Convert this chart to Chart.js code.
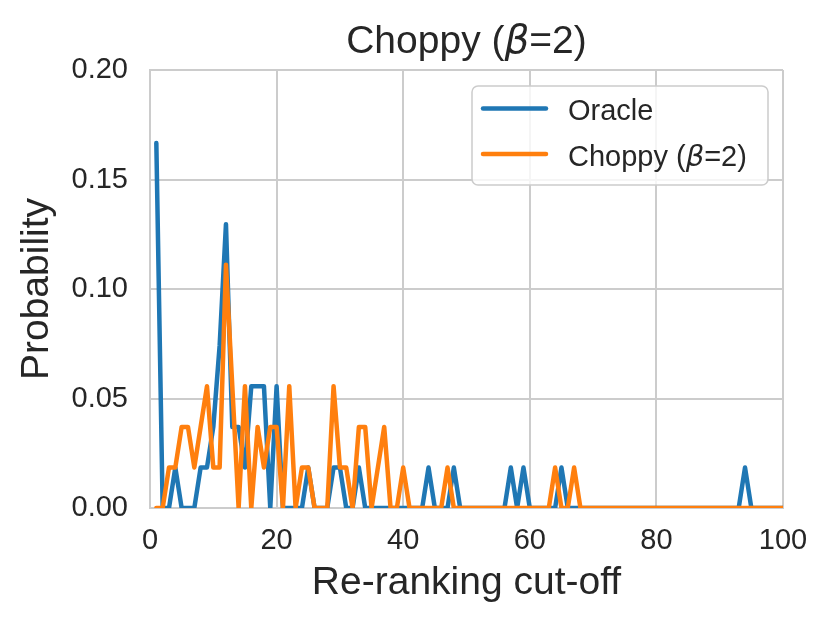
<!DOCTYPE html>
<html>
<head>
<meta charset="utf-8">
<script src="https://cdn.jsdelivr.net/npm/chart.js@4.4.1/dist/chart.umd.min.js"></script>
<style>
  html, body { margin: 0; padding: 0; background: #fff; }
  #wrap { width: 831px; height: 628px; }
</style>
</head>
<body>
<div id="wrap"><canvas id="cutoffChart" width="831" height="628"></canvas></div>
<script>
// re-ranking cut-off positions 1..100
const cutoffs = Array.from({ length: 100 }, (_, i) => i + 1);

// probability of each cut-off (54 queries, so steps of ~0.0185)
const oracleProb = [
  0.1667, 0, 0, 0.0185, 0, 0, 0, 0.0185, 0.0185, 0.037,
  0.0741, 0.1296, 0.037, 0.037, 0.0185, 0.0556, 0.0556, 0.0556, 0, 0.0556,
  0, 0, 0, 0, 0.0185, 0, 0, 0, 0.0185, 0.0185,
  0, 0, 0.0185, 0, 0, 0, 0, 0, 0, 0,
  0, 0, 0, 0.0185, 0, 0, 0, 0.0185, 0, 0,
  0, 0, 0, 0, 0, 0, 0.0185, 0, 0.0185, 0,
  0, 0, 0, 0, 0.0185, 0, 0, 0, 0, 0,
  0, 0, 0, 0, 0, 0, 0, 0, 0, 0,
  0, 0, 0, 0, 0, 0, 0, 0, 0, 0,
  0, 0, 0, 0.0185, 0, 0, 0, 0, 0, 0
];
const choppyProb = [
  0, 0, 0.0185, 0.0185, 0.037, 0.037, 0.0185, 0.037, 0.0556, 0.0185,
  0.0185, 0.1111, 0.0556, 0, 0.0556, 0, 0.037, 0.0185, 0.037, 0.037,
  0, 0.0556, 0, 0.0185, 0.0185, 0, 0, 0, 0.0556, 0.0185,
  0.0185, 0, 0.037, 0.037, 0, 0.0185, 0.037, 0, 0, 0.0185,
  0, 0, 0, 0, 0, 0, 0.0185, 0, 0, 0,
  0, 0, 0, 0, 0, 0, 0, 0, 0, 0,
  0, 0, 0, 0.0185, 0, 0, 0.0185, 0, 0, 0,
  0, 0, 0, 0, 0, 0, 0, 0, 0, 0,
  0, 0, 0, 0, 0, 0, 0, 0, 0, 0,
  0, 0, 0, 0, 0, 0, 0, 0, 0, 0
];

const xTicks = [0, 20, 40, 60, 80, 100];
const yTicks = [0, 0.05, 0.10, 0.15, 0.20];

const seriesNames = ['Oracle', 'Choppy (β=2)'];
const seriesColors = ['#1f77b4', '#ff7f0e'];

const SANS = '"Liberation Sans", Arial, sans-serif';
const MATH = '"DejaVu Sans", sans-serif';
const textColor = '#262626';
const gridColor = '#cccccc';
const LINE_W = 4.5;

// split "β" out so it can be drawn in italic like matplotlib mathtext
const splitBeta = (str) => str.split(/(β)/).filter(s => s.length);

const drawMixed = (ctx, str, x, y, size, align) => {
  const parts = splitBeta(str).map(t => ({
    t, font: t === 'β' ? `italic ${size}px ${MATH}` : `${size}px ${SANS}`
  }));
  let total = 0;
  parts.forEach(p => { ctx.font = p.font; p.w = ctx.measureText(p.t).width; total += p.w; });
  let cx = align === 'center' ? x - total / 2 : x;
  ctx.textBaseline = 'alphabetic';
  ctx.textAlign = 'left';
  parts.forEach(p => { ctx.font = p.font; ctx.fillText(p.t, cx, y); cx += p.w; });
};

const decorations = {
  id: 'decorations',
  beforeDraw(chart) {
    const { ctx } = chart;
    ctx.save();
    ctx.fillStyle = '#ffffff';
    ctx.fillRect(0, 0, chart.width, chart.height);
    ctx.restore();
  },
  afterDraw(chart) {
    const { ctx, chartArea } = chart;
    ctx.save();
    ctx.fillStyle = textColor;
    // title
    drawMixed(ctx, 'Choppy (β=2)', (chartArea.left + chartArea.right) / 2, 52.5, 39, 'center');

    // legend frame
    const bx = 472, by = 86, bw = 296, bh = 99, r = 6;
    ctx.beginPath();
    ctx.moveTo(bx + r, by);
    ctx.arcTo(bx + bw, by, bx + bw, by + bh, r);
    ctx.arcTo(bx + bw, by + bh, bx, by + bh, r);
    ctx.arcTo(bx, by + bh, bx, by, r);
    ctx.arcTo(bx, by, bx + bw, by, r);
    ctx.closePath();
    ctx.fillStyle = 'rgba(255,255,255,0.8)';
    ctx.fill();
    ctx.lineWidth = 1.5;
    ctx.strokeStyle = gridColor;
    ctx.stroke();

    // legend entries
    const rows = [108.5, 154];
    seriesNames.forEach((name, i) => {
      ctx.beginPath();
      ctx.moveTo(483, rows[i]);
      ctx.lineTo(546, rows[i]);
      ctx.lineWidth = LINE_W;
      ctx.lineCap = 'round';
      ctx.strokeStyle = seriesColors[i];
      ctx.stroke();
      ctx.fillStyle = textColor;
      drawMixed(ctx, name, 568, rows[i] + 11.5, 29, 'left');
    });
    ctx.restore();
  }
};

const toPoints = (values) => cutoffs.map((c, i) => ({ x: c, y: values[i] }));

new Chart(document.getElementById('cutoffChart'), {
  type: 'line',
  data: {
    datasets: [
      {
        label: seriesNames[0],
        data: toPoints(oracleProb),
        borderColor: seriesColors[0],
        order: 2
      },
      {
        label: seriesNames[1],
        data: toPoints(choppyProb),
        borderColor: seriesColors[1],
        order: 1
      }
    ]
  },
  options: {
    responsive: false,
    animation: false,
    devicePixelRatio: 1,
    layout: { padding: { top: 70, right: 48, bottom: 0, left: 0 } },
    elements: {
      line: { borderWidth: LINE_W, tension: 0, borderCapStyle: 'round', borderJoinStyle: 'round', fill: false },
      point: { radius: 0, hoverRadius: 0 }
    },
    datasets: { line: { clip: 0 } },
    scales: {
      x: {
        type: 'linear',
        min: 0,
        max: 100,
        afterFit: (scale) => { scale.height = 120; },
        afterBuildTicks: (axis) => { axis.ticks = xTicks.map(v => ({ value: v })); },
        grid: { color: gridColor, lineWidth: 2, drawTicks: false },
        border: { color: gridColor, width: 2 },
        ticks: {
          color: textColor,
          padding: 16,
          font: { family: SANS, size: 29 },
          callback: (v) => String(v)
        },
        title: {
          display: true,
          text: 'Re-ranking cut-off',
          color: textColor,
          font: { family: SANS, size: 39 },
          padding: { top: 0, bottom: 21 }
        }
      },
      y: {
        min: 0,
        max: 0.2,
        afterFit: (scale) => { scale.width = 150; },
        afterBuildTicks: (axis) => { axis.ticks = yTicks.map(v => ({ value: v })); },
        grid: { color: gridColor, lineWidth: 2, drawTicks: false },
        border: { color: gridColor, width: 2 },
        ticks: {
          color: textColor,
          padding: 22,
          font: { family: SANS, size: 29 },
          callback: (v) => Number(v).toFixed(2)
        },
        title: {
          display: true,
          text: 'Probability',
          color: textColor,
          font: { family: SANS, size: 39 },
          padding: { top: 14, bottom: 0 }
        }
      }
    },
    plugins: {
      legend: { display: false },
      tooltip: { enabled: false },
      title: { display: false }
    }
  },
  plugins: [decorations]
});
</script>
</body>
</html>
